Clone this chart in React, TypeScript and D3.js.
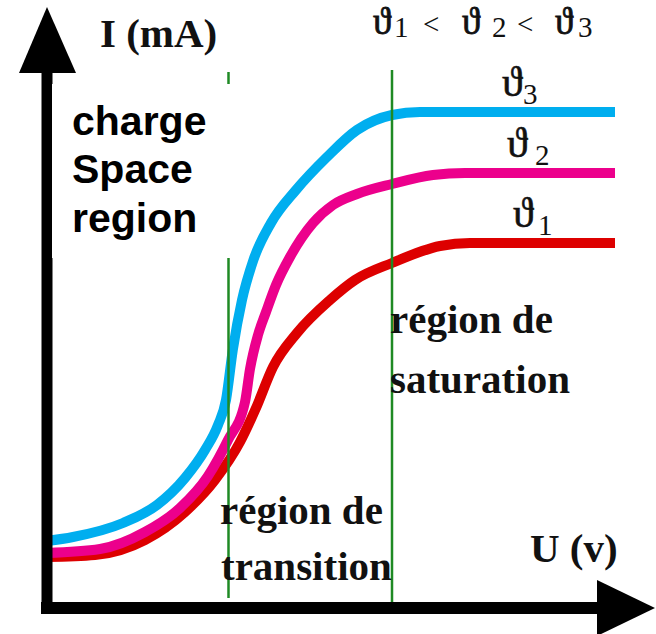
import React from "react";
import * as d3 from "d3";

const W = 656;
const H = 634;

// U (v) and I (mA), arbitrary units (0..120)
const uTheta1 = [0, 9.6, 19.6, 27.6, 33.6, 38.6, 41.8, 45.2, 50, 56.6, 61.6, 69, 78.6, 84.6, 113.6];
const iTheta1 = [10.2, 10.6, 13.6, 19.2, 25.6, 33.2, 40, 48.2, 55, 61.6, 65.6, 69, 72.4, 73, 73];

const uTheta2 = [0, 10.6, 19.6, 26.6, 32.2, 36.2, 39.6, 40.6, 42.2, 43.8, 45.8, 48.6, 53.2, 57.2, 62, 69, 77.2, 83.6, 113.6];
const iTheta2 = [11, 11.8, 15.2, 20, 26.4, 33.6, 41.2, 47.8, 54.6, 59.2, 64.6, 70.2, 77, 80.6, 82.8, 84.8, 86.6, 87, 87];

const uTheta3 = [0, 5.2, 15.2, 22, 27.6, 31.6, 34.2, 35.8, 37.16, 39, 41.28, 44.8, 49.8, 56, 62, 69, 74.6, 113.6];
const iTheta3 = [13.4, 14.2, 17, 20.6, 26, 31.6, 36.6, 41.6, 51.6, 61.6, 69.6, 77, 83.6, 90.2, 95.6, 98.6, 99.2, 99.2];

const seriesIndex = ["1", "2", "3"];
const seriesColors = ["#dd0000", "#ec008c", "#00aeef"];

// U where the transition and saturation regions start
const regionBounds = [36.3, 69];

const serif = "'Liberation Serif', 'Times New Roman', 'DejaVu Serif', serif";
const sans = "'Liberation Sans', Arial, sans-serif";

export default function App() {
  const x = d3.scaleLinear().domain([0, 120]).range([47, 647]);
  const y = d3.scaleLinear().domain([0, 120]).range([608, 8]);

  const line = d3
    .line<[number, number]>()
    .x((d) => x(d[0]))
    .y((d) => y(d[1]))
    .curve(d3.curveMonotoneX);

  const series = [
    { u: uTheta1, i: iTheta1 },
    { u: uTheta2, i: iTheta2 },
    { u: uTheta3, i: iTheta3 },
  ].map((s, k) => ({
    pts: s.u.map((u, j) => [u, s.i[j]] as [number, number]),
    color: seriesColors[k],
    name: seriesIndex[k],
    last: s.i[s.i.length - 1],
  }));

  // text placement
  const labelX = [513, 507, 502];
  const digitDx = [25, 28, 21];
  const thetaX = [373, 462, 555];
  const digitX = [394, 492, 578];
  const ltX = [423, 517];

  const x0 = x(0);
  const y0 = y(0);

  return (
    <svg width={W} height={H} style={{ position: "absolute", left: 0, top: 0, background: "#fff" }}>
      {/* curves */}
      {series.map((s, k) => (
        <path key={k} d={line(s.pts) || ""} fill="none" stroke={s.color} strokeWidth={10} strokeLinecap="butt" />
      ))}

      {/* region boundaries */}
      {regionBounds.map((b, k) => (
        <line key={k} x1={x(b)} x2={x(b)} y1={k === 0 ? 72 : 70} y2={k === 0 ? 598 : 603} stroke="#1f8a24" strokeWidth={2.5} />
      ))}

      {/* axes */}
      <line x1={x0} x2={x0} y1={70} y2={y0 + 6} stroke="#000" strokeWidth={11} />
      <line x1={x0 - 6} x2={600} y1={y0} y2={y0} stroke="#000" strokeWidth={12} />
      <polygon points={`${x0},7 ${x0 - 28},73 ${x0 + 29},73`} fill="#000" />
      <polygon points={`655,${y0} 597,${y0 - 28} 597,${y0 + 28}`} fill="#000" />

      {/* space charge box */}
      <rect x={52} y={84} width={178} height={174} fill="#fff" />
      <g fontFamily={sans} fontWeight="bold" fontSize={41} fill="#000">
        <text x={72} y={135}>charge</text>
        <text x={72} y={183}>Space</text>
        <text x={72} y={232}>region</text>
      </g>

      {/* axis titles and region texts */}
      <g fontFamily={serif} fontWeight="bold" fontSize={41} fill="#111">
        <text x={100} y={47}>I (mA)</text>
        <text x={530} y={562}>U (v)</text>
        <text x={390} y={333}>région de</text>
        <text x={390} y={393}>saturation</text>
        <text x={220} y={524}>région de</text>
        <text x={221} y={580}>transition</text>
      </g>

      {/* ϑ1 < ϑ2 < ϑ3 */}
      <g fontFamily={serif} fill="#111">
        {thetaX.map((px, k) => (
          <g key={k}>
            <text x={px} y={34} fontSize={37} stroke="#111" strokeWidth={0.8}>ϑ</text>
            <text x={digitX[k]} y={37} fontSize={29}>{seriesIndex[k]}</text>
            {k < 2 && (
              <text x={ltX[k]} y={34} fontSize={29}>&lt;</text>
            )}
          </g>
        ))}
      </g>

      {/* curve labels */}
      <g fontFamily={serif} fill="#111">
        {series.map((s, k) => (
          <g key={k}>
            <text x={labelX[k]} y={y(s.last) - 16} fontSize={42} stroke="#111" strokeWidth={0.6}>ϑ</text>
            <text x={labelX[k] + digitDx[k]} y={y(s.last) - 8} fontSize={29}>{s.name}</text>
          </g>
        ))}
      </g>
    </svg>
  );
}
